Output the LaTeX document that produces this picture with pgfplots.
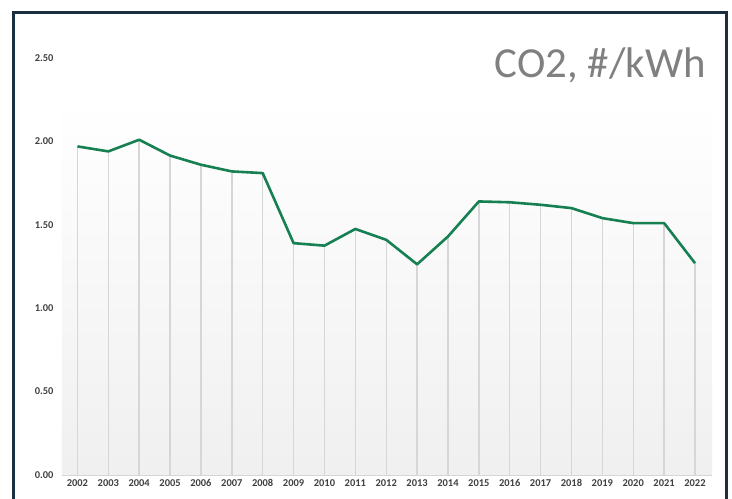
\documentclass[border=0pt]{standalone}
\usepackage{fontspec}
\setmainfont{Carlito}
\usepackage{pgfplots}
\pgfplotsset{compat=1.18}
\definecolor{co2green}{RGB}{22,128,82}
\definecolor{framenavy}{RGB}{24,48,66}
\definecolor{ticktext}{RGB}{64,64,64}
\definecolor{droplines}{RGB}{214,214,214}

\pgfplotstableread{
year co2
2002 1.97
2003 1.94
2004 2.01
2005 1.915
2006 1.86
2007 1.82
2008 1.81
2009 1.39
2010 1.375
2011 1.475
2012 1.41
2013 1.263
2014 1.43
2015 1.64
2016 1.635
2017 1.62
2018 1.60
2019 1.54
2020 1.51
2021 1.51
2022 1.27
}\co

\begin{document}
\begin{tikzpicture}
\useasboundingbox (0,0) rectangle (732bp,499bp);
\begin{axis}[
  at={(62bp,24bp)}, anchor=south west,
  scale only axis,
  width=650bp, height=417bp,
  xmin=2001.5, xmax=2022.55,
  ymin=0, ymax=2.5,
  xtick={2002,...,2022},
  ytick={0,0.5,1,1.5,2,2.5},
  xticklabel style={/pgf/number format/1000 sep={}},
  yticklabel style={/pgf/number format/fixed, /pgf/number format/precision=2,
    /pgf/number format/fixed zerofill},
  /pgf/number format/assume math mode=true,
  ticklabel style={font=\fontsize{10.5}{12}\selectfont\bfseries, text=ticktext},
  xticklabel style={yshift=-1bp},
  yticklabel style={xshift=-5bp},
  major tick length=0pt,
  axis y line*=left,
  y axis line style={draw=none},
  axis x line*=bottom,
  x axis line style={draw=droplines, line width=1bp, -},
  clip=false,
]
\fill[top color=white, bottom color=black!6, draw=none]
  (axis cs:2001.5,0) rectangle (axis cs:2022.55,2.25);
\addplot[ycomb, draw=droplines, line width=1.4bp, no markers] table[x=year,y=co2] {\co};
\addplot[co2green, line width=2.6bp, no markers, line join=round] table[x=year,y=co2] {\co};
\end{axis}
\node[anchor=base east, text=black!50, inner sep=0pt, font=\fontsize{43}{46}\selectfont]
  at (706bp,421bp) {CO2, \#/kWh};
\draw[framenavy, line width=3bp] (13.5bp,-10bp) rectangle (726bp,486.5bp);
\end{tikzpicture}
\end{document}
